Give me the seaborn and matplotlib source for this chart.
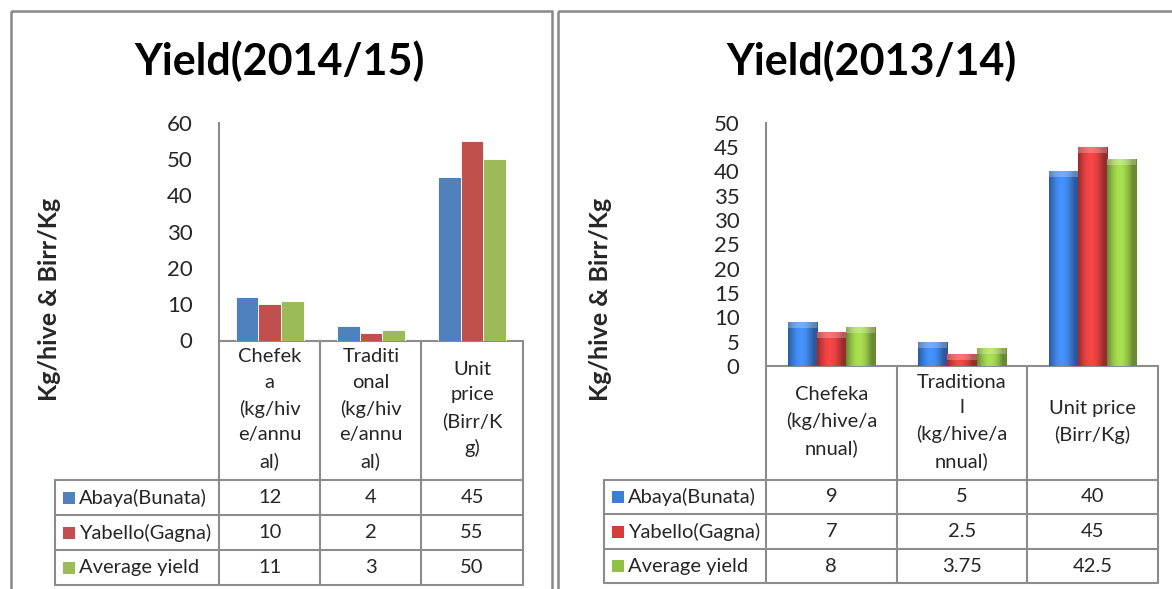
import seaborn as sns
import pandas as pd
import matplotlib.pyplot as plt
import numpy as np
from matplotlib.patches import Rectangle

# -----------------------------------------------------------------------------
# Data
# -----------------------------------------------------------------------------

series = ["Abaya(Bunata)", "Yabello(Gagna)", "Average yield"]

# Yield 2014/15
cats_1415 = [
    "Chefek\na\n(kg/hiv\ne/annu\nal)",
    "Traditi\nonal\n(kg/hiv\ne/annu\nal)",
    "Unit\nprice\n(Birr/K\ng)",
]
abaya_1415 = [12, 4, 45]
yabello_1415 = [10, 2, 55]
average_1415 = [11, 3, 50]
yticks_1415 = [0, 10, 20, 30, 40, 50, 60]

# Yield 2013/14
cats_1314 = [
    "Chefeka\n(kg/hive/a\nnnual)",
    "Traditiona\nl\n(kg/hive/a\nnnual)",
    "Unit price\n(Birr/Kg)",
]
abaya_1314 = [9, 5, 40]
yabello_1314 = [7, 2.5, 45]
average_1314 = [8, 3.75, 42.5]
yticks_1314 = [0, 5, 10, 15, 20, 25, 30, 35, 40, 45, 50]

colors_flat = ["#4F81BD", "#C0504D", "#9BBB59"]
colors_bevel = ["#3B7DD8", "#D43C3C", "#92C045"]

# -----------------------------------------------------------------------------
# Figure setup
# -----------------------------------------------------------------------------

sns.set_style("white")
plt.rcParams["font.family"] = ["Lato", "DejaVu Sans"]

W, H = 1172, 589
fig = plt.figure(figsize=(W / 100, H / 100), dpi=100)

# overlay axes in pixel coordinates for frames and the data tables
bg = fig.add_axes([0, 0, 1, 1])
bg.set_xlim(0, W)
bg.set_ylim(H, 0)
bg.axis("off")

GRID = "#8c8c8c"
TXT = 14.5


def px_axes(x0, y0, x1, y1):
    return fig.add_axes([x0 / W, 1 - y1 / H, (x1 - x0) / W, (y1 - y0) / H])


def long_table(cats, vals):
    rows = []
    for name, v in zip(series, vals):
        for c, y in zip(cats, v):
            rows.append({"cat": c, "series": name, "value": y})
    return pd.DataFrame(rows)


def bevel(ax, ymax):
    # shade each bar with a soft horizontal gradient like the office bevel look
    t = np.linspace(0, 1, 60)
    shade = 0.72 + 0.45 * np.sin(np.pi * np.clip(t * 1.15, 0, 1))
    for p in list(ax.patches):
        x, y = p.get_x(), p.get_y()
        w, h = p.get_width(), p.get_height()
        if h <= 0:
            continue
        rgb = np.array(p.get_facecolor()[:3])
        img = np.clip(rgb[None, :] * shade[:, None], 0, 1)
        img = np.concatenate([img, np.ones((len(t), 1))], axis=1)[None, :, :]
        im = ax.imshow(img, extent=[x, x + w, y, y + h], aspect="auto",
                       zorder=p.get_zorder() + 0.1, interpolation="bilinear")
        im.set_clip_path(p)
        # lighter cap at the top of the bar
        cap = min(h, ymax * 0.025)
        ax.add_patch(Rectangle((x, y + h - cap), w, cap, color="white",
                               alpha=0.25, lw=0, zorder=p.get_zorder() + 0.2))
    ax.set_aspect("auto")


def panel(frame, title, title_x, cats, vals, colors, yticks, box,
          leg_left, head_bottom, row_lines, label_x, fancy=False):
    x0, ytop, x1, ybot = box

    # outer frame
    fx0, fx1 = frame
    bg.add_patch(Rectangle((fx0, 10.5), fx1 - fx0, 700, fill=False,
                           ec="#888888", lw=1.8))

    bg.text(title_x, 75, title, ha="center", va="baseline",
            fontsize=31, fontweight="bold", color="black")

    ax = px_axes(x0, ytop, x1, ybot)
    ax.patch.set_alpha(0)
    df = long_table(cats, vals)
    sns.barplot(data=df, x="cat", y="value", hue="series", palette=colors,
                width=0.67, gap=0, saturation=1, legend=False, ax=ax,
                edgecolor="white" if not fancy else "none",
                linewidth=0.6 if not fancy else 0)
    ax.set_xlim(-0.5, len(cats) - 0.5)
    ax.set_ylim(yticks[0], yticks[-1])
    if fancy:
        bevel(ax, yticks[-1])
        ax.set_xlim(-0.5, len(cats) - 0.5)
        ax.set_ylim(yticks[0], yticks[-1])
    ax.set_yticks(yticks)
    ax.set_xticks([])
    ax.set_xlabel("")
    ax.set_ylabel("")
    ax.tick_params(axis="y", length=0, pad=19, labelsize=16)
    for s in ["top", "right", "bottom"]:
        ax.spines[s].set_visible(False)
    ax.spines["left"].set_color(GRID)
    ax.spines["left"].set_linewidth(1.5)

    bg.text(label_x, 299, "Kg/hive & Birr/Kg", rotation=90,
            ha="center", va="center", fontsize=18, fontweight="bold")

    # data table under the plot
    n = len(cats)
    cw = (x1 - x0) / n
    bottom = row_lines[-1]
    bg.plot([x0, x1], [ybot, ybot], color=GRID, lw=1.5)
    for i in range(n + 1):
        bg.plot([x0 + i * cw] * 2, [ybot, bottom], color=GRID, lw=1.5)
    bg.plot([leg_left] * 2, [head_bottom, bottom], color=GRID, lw=1.5)
    for yl in [head_bottom] + row_lines:
        bg.plot([leg_left, x1], [yl, yl], color=GRID, lw=1.5)

    for i, c in enumerate(cats):
        bg.text(x0 + (i + 0.5) * cw, (ybot + head_bottom) / 2 - 1, c,
                ha="center", va="center", fontsize=TXT, linespacing=1.6)

    tops = [head_bottom] + row_lines[:-1]
    for r, (name, v) in enumerate(zip(series, vals)):
        yc = (tops[r] + row_lines[r]) / 2
        bg.add_patch(Rectangle((leg_left + 8, yc - 6), 12, 12,
                               color=colors[r], lw=0))
        bg.text(leg_left + 24, yc, name, ha="left", va="center", fontsize=TXT)
        for i, y in enumerate(v):
            bg.text(x0 + (i + 0.5) * cw, yc, f"{y:g}", ha="center",
                    va="center", fontsize=TXT)
    return ax


panel((10.5, 551.5), "Yield(2014/15)", 280, cats_1415,
      [abaya_1415, yabello_1415, average_1415], colors_flat, yticks_1415,
      (219, 122.7, 522.7, 340.5), 55, 480, [515, 550, 585], 50)

panel((557.5, 1200), "Yield(2013/14)", 871, cats_1314,
      [abaya_1314, yabello_1314, average_1314], colors_bevel, yticks_1314,
      (766, 122.7, 1158, 366), 604, 479.5, [514, 549.3, 583.3], 600,
      fancy=True)

fig.savefig("out.png", dpi=100)
